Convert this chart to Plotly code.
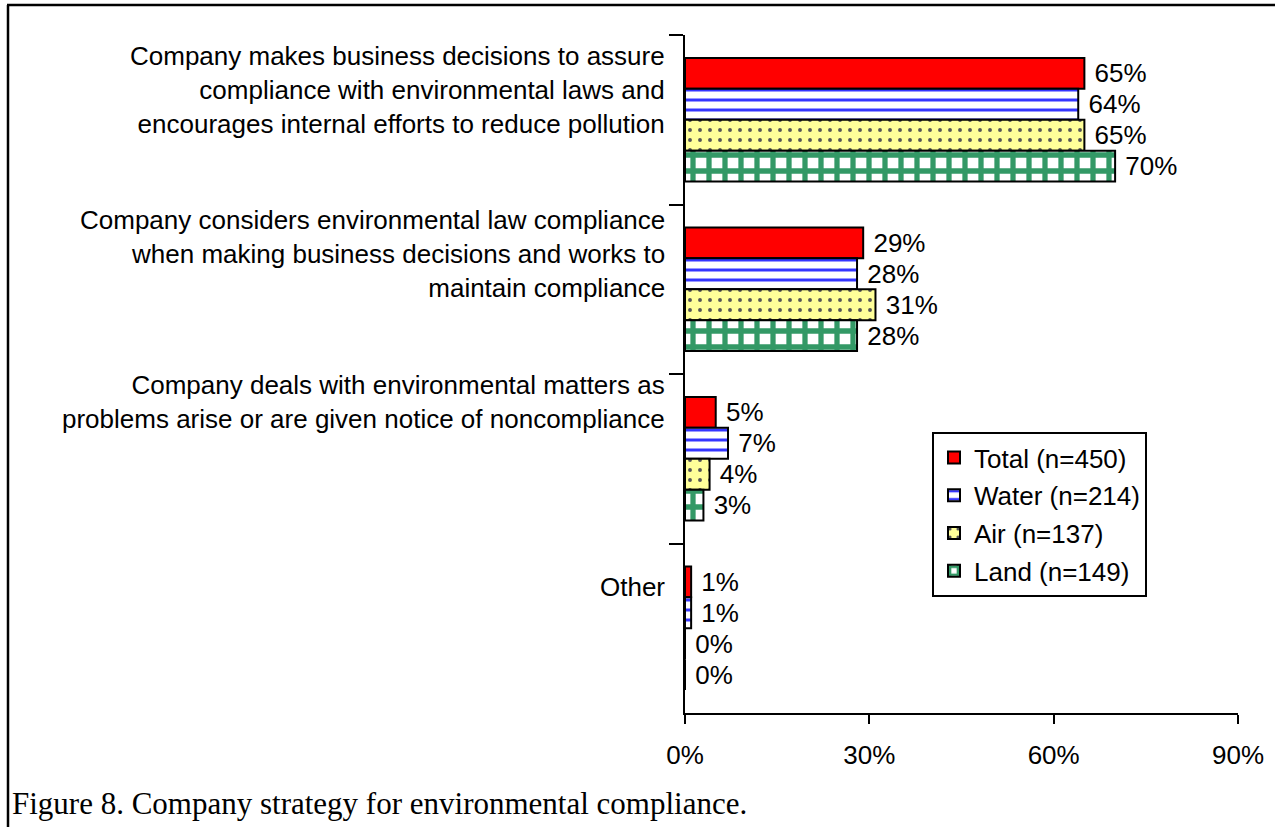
import plotly.graph_objects as go

# ---------------- data ----------------
categories = [
    "Company makes business decisions to assure<br>compliance with environmental laws and<br>encourages internal efforts to reduce pollution",
    "Company considers environmental law compliance<br>when making business decisions and works to<br>maintain compliance",
    "Company deals with environmental matters as<br>problems arise or are given notice of noncompliance",
    "Other",
]
series_names = ["Total (n=450)", "Water (n=214)", "Air (n=137)", "Land (n=149)"]
total = [65, 29, 5, 1]
water = [64, 28, 7, 1]
air = [65, 31, 4, 0]
land = [70, 28, 3, 0]
x_ticks = [0, 30, 60, 90]
x_tick_labels = ["0%", "30%", "60%", "90%"]
caption = "Figure 8. Company strategy for environmental compliance."

# ---------------- layout geometry (pixels) ----------------
W, H = 1275, 827
PL, PR, PT, PB = 685, 1238, 35, 713


def px(x):
    return (x - PL) / (PR - PL)


def py(y):
    return (PB - y) / (PB - PT)


FONT = "Arial, Liberation Sans, sans-serif"
FS = 26

styles = [
    dict(color="#FF0000", pattern=dict(shape="")),
    dict(color="#FFFFFF", pattern=dict(shape="-", fgcolor="#3535FF", bgcolor="#FFFFFF",
                                       size=10, solidity=0.3, fillmode="replace")),
    dict(color="#FFFF99", pattern=dict(shape=".", fgcolor="#555555", bgcolor="#FFFF99",
                                       size=10, solidity=0.12, fillmode="replace")),
    dict(color="#FFFFFF", pattern=dict(shape="+", fgcolor="#339966", bgcolor="#FFFFFF",
                                       size=16, solidity=0.55, fillmode="replace")),
]

fig = go.Figure()
for name, vals, st in zip(series_names, [total, water, air, land], styles):
    fig.add_trace(go.Bar(
        y=categories, x=vals, orientation="h", name=name, legendgroup=name,
        marker=dict(color=st["color"], pattern=st["pattern"],
                    line=dict(color="black", width=2)),
        text=[f"\u00a0{v}%" for v in vals], textposition="outside", constraintext="none",
        cliponaxis=False,
        textfont=dict(family=FONT, size=FS, color="black"),
    ))

# category labels as annotations (placed like the reference)
label_yshift = [30, 35, 57, 41]
annotations = []
for cat, ys in zip(categories, label_yshift):
    annotations.append(dict(
        x=0, xref="paper", xanchor="right", xshift=-18,
        y=cat, yref="y", yanchor="middle", yshift=ys,
        text=cat, showarrow=False, align="right",
        font=dict(family=FONT, size=FS, color="black"),
    ))
annotations.append(dict(
    x=px(10), xref="paper", xanchor="left",
    y=py(803), yref="paper", yanchor="middle",
    text=caption, showarrow=False,
    font=dict(family="Liberation Serif, Times New Roman, serif", size=31, color="black"),
))

shapes = [
    dict(type="line", xref="paper", yref="paper", x0=px(8), x1=px(8), y0=py(5), y1=py(840),
         line=dict(color="black", width=2.5)),
    dict(type="line", xref="paper", yref="paper", x0=px(7), x1=px(1290), y0=py(5), y1=py(5),
         line=dict(color="black", width=2.5)),
]

fig.update_layout(
    width=W, height=H,
    margin=dict(l=PL, r=W - PR, t=PT, b=H - PB, pad=0),
    paper_bgcolor="white", plot_bgcolor="white",
    barmode="group", bargap=0.27, bargroupgap=0,
    font=dict(family=FONT, size=FS, color="black"),
    showlegend=True,
    legend=dict(
        x=px(932), y=py(432), xanchor="left", yanchor="top",
        bgcolor="white", bordercolor="black", borderwidth=2,
        font=dict(family=FONT, size=FS, color="black"),
        traceorder="grouped", tracegroupgap=1, itemwidth=30,
    ),
    annotations=annotations,
    shapes=shapes,
)
fig.update_xaxes(
    range=[0, 90], tickmode="array", tickvals=x_ticks, ticktext=x_tick_labels,
    showgrid=False, zeroline=False,
    showline=True, linecolor="black", linewidth=2,
    ticks="outside", ticklen=9, tickwidth=2, tickcolor="black",
    ticklabelstandoff=9,
    tickfont=dict(family=FONT, size=FS, color="black"),
)
fig.update_yaxes(
    type="category", categoryorder="array", categoryarray=categories,
    autorange="reversed", showticklabels=False, showgrid=False,
    showline=True, linecolor="black", linewidth=2,
    ticks="outside", tickson="boundaries", ticklen=14, tickwidth=2, tickcolor="black",
)

fig.write_html("out.html", config={"displayModeBar": False},
               post_script="document.body.style.margin='0px';")
